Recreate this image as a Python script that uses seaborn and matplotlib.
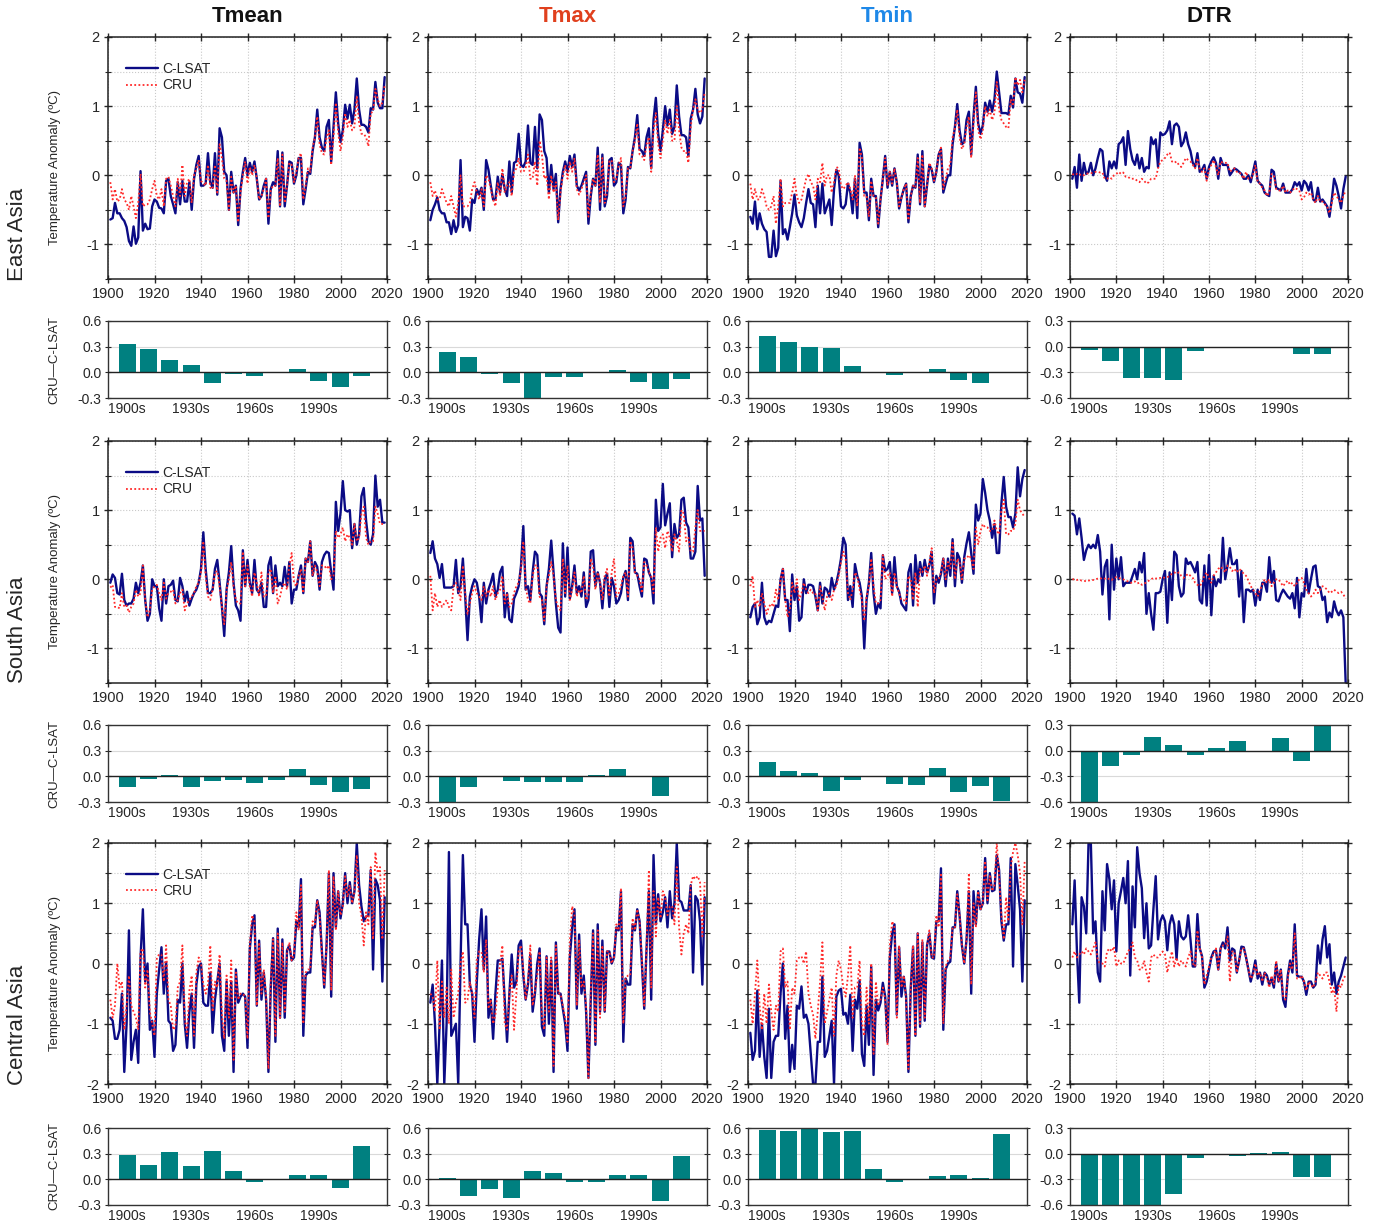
import numpy as np
import pandas as pd
import matplotlib
matplotlib.use("Agg")
import matplotlib.pyplot as plt
from matplotlib.ticker import MultipleLocator, FixedLocator
from matplotlib.lines import Line2D
import seaborn as sns

sns.set_style("ticks")
plt.rcParams["font.family"] = ["Liberation Sans", "DejaVu Sans"]
plt.rcParams["axes.unicode_minus"] = False

years = np.arange(1901, 2020)
decades = ["1900s", "1910s", "1920s", "1930s", "1940s", "1950s",
           "1960s", "1970s", "1980s", "1990s", "2000s", "2010s"]
variables = ["Tmean", "Tmax", "Tmin", "DTR"]
title_colors = ["#111111", "#E0401E", "#1E88E8", "#111111"]
regions = ["East Asia", "South Asia", "Central Asia"]

# ---------------- East Asia ----------------
ea_tmean_clsat = [
    -0.64, -0.62, -0.40, -0.55, -0.55, -0.62, -0.66, -0.75, -0.95, -1.02,
    -0.74, -0.99, -0.90, 0.06, -0.80, -0.70, -0.78, -0.77, -0.45, -0.35,
    -0.38, -0.47, -0.48, -0.55, -0.08, -0.05, -0.30, -0.42, -0.55, -0.10,
    -0.42, -0.08, -0.38, -0.38, -0.10, -0.50, -0.05, 0.15, 0.28, -0.15,
    -0.15, -0.12, 0.32, -0.10, -0.18, 0.32, -0.28, 0.68, 0.55, 0.05,
    0.00, -0.50, 0.05, -0.25, -0.15, -0.72, -0.20, 0.05, 0.25, 0.00,
    0.18, 0.05, 0.20, -0.05, -0.35, -0.30, -0.15, -0.05, -0.70, -0.20,
    -0.10, -0.15, 0.35, -0.45, 0.33, -0.45, -0.15, 0.20, 0.18, -0.12,
    0.00, 0.25, 0.25, -0.42, -0.20, 0.05, 0.02, 0.35, 0.55, 0.95,
    0.55, 0.40, 0.35, 0.70, 0.80, 0.20, 0.70, 1.20, 0.75, 0.48,
    0.65, 1.02, 0.82, 1.02, 0.75, 0.95, 1.40, 0.95, 0.73, 0.73,
    0.70, 0.62, 0.97, 0.95, 1.35, 1.05, 0.97, 0.97, 1.42]
ea_tmean_cru = [
    -0.10, -0.35, -0.20, -0.38, -0.35, -0.20, -0.35, -0.40, -0.50, -0.30,
    -0.45, -0.62, -0.40, 0.02, -0.45, -0.42, -0.42, -0.35, -0.20, -0.08,
    -0.30, -0.35, -0.20, -0.45, -0.05, -0.02, -0.15, -0.30, -0.45, -0.05,
    -0.30, 0.15, -0.30, -0.10, -0.05, -0.40, 0.00, 0.10, 0.22, -0.08,
    -0.12, -0.15, 0.15, -0.18, -0.20, 0.15, -0.25, 0.45, 0.25, -0.05,
    -0.08, -0.50, -0.02, -0.25, -0.15, -0.68, -0.25, 0.00, 0.20, -0.12,
    0.12, 0.00, 0.15, -0.05, -0.35, -0.30, -0.20, -0.05, -0.62, -0.22,
    -0.15, -0.15, 0.25, -0.45, 0.30, -0.40, -0.15, 0.18, 0.15, -0.10,
    0.05, 0.25, 0.32, -0.35, -0.15, 0.10, 0.05, 0.40, 0.55, 0.85,
    0.45, 0.32, 0.30, 0.55, 0.65, 0.15, 0.55, 1.05, 0.62, 0.35,
    0.55, 0.90, 0.70, 0.80, 0.65, 0.70, 1.15, 0.75, 0.60, 0.60,
    0.55, 0.42, 0.90, 0.92, 1.25, 1.10, 1.00, 1.05, 1.30]
ea_tmax_clsat = [
    -0.65, -0.50, -0.42, -0.32, -0.50, -0.55, -0.55, -0.68, -0.68, -0.85,
    -0.65, -0.82, -0.72, 0.22, -0.75, -0.60, -0.62, -0.80, -0.35, -0.40,
    -0.20, -0.28, -0.18, -0.50, 0.22, 0.08, -0.15, -0.35, -0.35, -0.02,
    -0.25, 0.02, -0.20, -0.30, 0.20, -0.25, 0.18, 0.20, 0.60, 0.15,
    0.12, 0.20, 0.72, 0.18, 0.15, 0.70, 0.10, 0.88, 0.80, 0.35,
    0.25, -0.25, 0.15, -0.20, 0.02, -0.68, -0.20, 0.05, 0.20, 0.05,
    0.28, 0.12, 0.30, -0.15, -0.22, -0.15, -0.05, 0.05, -0.70, -0.30,
    -0.05, -0.15, 0.40, -0.50, 0.30, -0.45, -0.30, 0.22, 0.25, -0.15,
    -0.10, 0.18, 0.15, -0.55, -0.35, 0.12, 0.10, 0.35, 0.55, 0.87,
    0.38, 0.35, 0.28, 0.55, 0.68, 0.10, 0.80, 1.12, 0.60, 0.35,
    0.65, 1.00, 0.72, 0.95, 0.60, 0.70, 1.30, 0.85, 0.58, 0.58,
    0.55, 0.28, 0.82, 0.95, 1.25, 0.88, 0.75, 0.85, 1.40]
ea_tmax_cru = [
    -0.10, -0.30, -0.22, -0.35, -0.35, -0.20, -0.30, -0.40, -0.45, -0.30,
    -0.45, -0.60, -0.40, 0.00, -0.45, -0.45, -0.45, -0.40, -0.20, -0.10,
    -0.25, -0.35, -0.20, -0.45, 0.00, -0.05, -0.20, -0.35, -0.45, -0.10,
    -0.30, 0.10, -0.25, -0.15, -0.10, -0.30, 0.05, 0.10, 0.25, 0.05,
    0.05, 0.10, 0.30, -0.05, -0.05, 0.20, -0.15, 0.50, 0.30, -0.05,
    0.00, -0.35, 0.00, -0.25, -0.10, -0.65, -0.25, 0.00, 0.15, -0.05,
    0.20, 0.05, 0.25, -0.20, -0.28, -0.20, -0.10, 0.00, -0.60, -0.25,
    -0.05, -0.15, 0.30, -0.40, 0.25, -0.40, -0.25, 0.20, 0.22, -0.10,
    -0.05, 0.15, 0.25, -0.45, -0.30, 0.10, 0.10, 0.35, 0.50, 0.75,
    0.30, 0.28, 0.22, 0.45, 0.55, 0.05, 0.65, 0.90, 0.45, 0.25,
    0.50, 0.80, 0.60, 0.80, 0.50, 0.50, 1.00, 0.65, 0.40, 0.35,
    0.35, 0.18, 0.70, 0.95, 1.10, 0.95, 0.90, 0.95, 1.20]
ea_tmin_clsat = [
    -0.60, -0.70, -0.38, -0.78, -0.55, -0.70, -0.78, -0.82, -1.18, -1.18,
    -0.80, -1.17, -1.05, -0.08, -0.85, -0.78, -0.93, -0.75, -0.55, -0.28,
    -0.58, -0.68, -0.75, -0.62, -0.40, -0.20, -0.40, -0.42, -0.75, -0.15,
    -0.55, -0.12, -0.55, -0.45, -0.35, -0.72, -0.20, 0.08, 0.00, -0.45,
    -0.48, -0.42, -0.12, -0.25, -0.55, -0.05, -0.62, 0.47, 0.30, -0.25,
    -0.25, -0.65, -0.05, -0.30, -0.30, -0.75, -0.35, -0.05, 0.28, -0.18,
    0.05, -0.15, 0.10, -0.10, -0.48, -0.32, -0.20, -0.12, -0.68, -0.30,
    -0.15, -0.18, 0.30, -0.42, 0.35, -0.45, -0.15, 0.15, 0.08, -0.10,
    0.05, 0.30, 0.38, -0.25, -0.12, 0.00, 0.00, 0.45, 0.70, 1.03,
    0.65, 0.45, 0.48, 0.80, 0.92, 0.30, 0.85, 1.28, 0.75, 0.60,
    0.72, 1.05, 0.92, 1.08, 0.92, 1.10, 1.50, 1.20, 0.90, 0.90,
    0.90, 0.88, 1.15, 0.98, 1.40, 1.20, 1.18, 1.05, 1.42]
ea_tmin_cru = [
    -0.12, -0.35, -0.20, -0.35, -0.35, -0.20, -0.30, -0.45, -0.50, -0.45,
    -0.30, -0.70, -0.45, -0.05, -0.45, -0.40, -0.40, -0.40, -0.25, -0.05,
    -0.30, -0.40, -0.35, -0.20, -0.05, 0.02, -0.10, -0.15, -0.35, -0.05,
    -0.10, 0.18, -0.15, 0.00, 0.00, -0.25, -0.10, 0.12, 0.10, -0.15,
    -0.20, -0.15, -0.10, -0.20, -0.35, 0.00, -0.45, 0.40, 0.25, -0.30,
    -0.30, -0.60, -0.08, -0.30, -0.32, -0.70, -0.35, -0.05, 0.25, -0.15,
    0.05, -0.12, 0.10, -0.10, -0.45, -0.32, -0.20, -0.12, -0.65, -0.30,
    -0.15, -0.18, 0.25, -0.40, 0.30, -0.45, -0.15, 0.18, 0.10, -0.08,
    0.05, 0.30, 0.40, -0.20, -0.05, 0.10, 0.15, 0.55, 0.68, 0.95,
    0.55, 0.38, 0.45, 0.70, 0.85, 0.25, 0.75, 1.20, 0.65, 0.52,
    0.65, 1.00, 0.85, 0.95, 0.80, 0.90, 1.35, 0.95, 0.80, 0.75,
    0.70, 0.68, 1.10, 1.00, 1.42, 1.30, 1.38, 1.20, 1.38]
ea_dtr_clsat = [
    -0.05, 0.12, -0.18, 0.30, -0.08, 0.18, 0.02, 0.05, 0.18, 0.00,
    0.10, 0.25, 0.38, 0.35, 0.00, -0.08, 0.20, 0.10, 0.20, 0.10,
    0.45, 0.48, 0.55, 0.15, 0.64, 0.38, 0.22, 0.15, 0.30, 0.10,
    0.25, 0.05, 0.12, 0.10, 0.55, 0.45, 0.52, 0.12, 0.62, 0.58,
    0.60, 0.65, 0.78, 0.45, 0.72, 0.75, 0.70, 0.42, 0.48, 0.62,
    0.45, 0.35, 0.18, 0.12, 0.32, 0.05, 0.08, 0.15, -0.05, 0.12,
    0.20, 0.26, 0.18, -0.05, 0.25, 0.15, 0.15, 0.15, 0.00, 0.05,
    0.10, 0.08, 0.05, 0.02, -0.05, -0.05, 0.00, -0.10, 0.05, 0.20,
    -0.08, -0.12, -0.15, -0.25, -0.28, -0.30, 0.08, 0.05, -0.18, -0.20,
    -0.22, -0.12, -0.25, -0.25, -0.25, -0.20, -0.10, -0.15, -0.10, -0.22,
    -0.08, -0.12, -0.22, -0.10, -0.35, -0.38, -0.18, -0.38, -0.35, -0.40,
    -0.45, -0.60, -0.35, -0.05, -0.15, -0.30, -0.48, -0.20, -0.02]
ea_dtr_cru = [
    0.02, 0.00, 0.02, 0.00, 0.02, 0.00, 0.02, 0.03, 0.03, 0.04,
    0.05, 0.05, 0.04, 0.04, -0.05, -0.05, -0.03, -0.05, 0.00, 0.02,
    0.05, 0.02, 0.04, -0.02, -0.02, -0.05, -0.05, -0.05, -0.08, -0.10,
    -0.05, -0.08, -0.12, -0.10, -0.05, -0.05, -0.05, 0.10, 0.20, 0.22,
    0.25, 0.30, 0.33, 0.20, 0.18, 0.20, 0.15, 0.12, 0.18, 0.25,
    0.22, 0.20, 0.15, 0.10, 0.25, 0.08, 0.05, 0.10, -0.08, 0.08,
    0.15, 0.22, 0.12, 0.00, 0.20, 0.18, 0.18, 0.18, 0.05, 0.08,
    0.10, 0.05, 0.05, 0.00, -0.05, 0.05, -0.05, -0.05, 0.00, 0.15,
    -0.10, -0.12, -0.18, -0.22, -0.30, -0.25, 0.02, 0.00, -0.20, -0.22,
    -0.22, -0.15, -0.25, -0.22, -0.25, -0.22, -0.18, -0.20, -0.22, -0.35,
    -0.32, -0.25, -0.28, -0.25, -0.35, -0.40, -0.30, -0.38, -0.38, -0.42,
    -0.45, -0.55, -0.40, -0.25, -0.30, -0.35, -0.40, -0.30, -0.22]

# ---------------- South Asia ----------------
sa_tmean_clsat = [
    -0.05, 0.07, 0.02, -0.20, -0.22, 0.08, -0.30, -0.38, -0.35, -0.35,
    -0.28, -0.05, -0.20, -0.05, 0.20, -0.30, -0.60, -0.50, 0.00, -0.10,
    -0.10, -0.42, -0.60, 0.00, -0.35, -0.10, -0.08, -0.02, -0.30, -0.32,
    0.02, -0.10, -0.32, -0.18, -0.38, -0.28, -0.20, -0.15, -0.05, 0.15,
    0.68, 0.15, -0.20, -0.20, -0.15, 0.15, 0.28, -0.05, -0.40, -0.82,
    -0.15, 0.10, 0.48, -0.05, -0.38, -0.45, -0.60, 0.42, -0.10, 0.28,
    -0.05, -0.20, 0.28, -0.15, -0.20, -0.05, -0.40, -0.40, 0.20, 0.32,
    -0.20, 0.20, -0.10, -0.05, -0.10, 0.18, -0.10, 0.25, -0.35, -0.15,
    -0.15, 0.05, 0.20, -0.20, 0.30, 0.25, 0.55, 0.05, 0.25, 0.18,
    -0.15, 0.25, 0.35, 0.40, 0.38, 0.10, -0.15, 1.12, 0.70, 0.95,
    1.42, 1.00, 0.98, 1.00, 0.45, 0.80, 0.50, 0.65, 1.20, 1.32,
    0.85, 0.55, 0.50, 0.65, 1.50, 1.05, 1.15, 0.82, 0.82]
sa_tmean_cru = [
    -0.12, -0.08, -0.40, -0.40, -0.42, -0.20, -0.40, -0.38, -0.48, -0.40,
    -0.35, -0.15, -0.25, -0.20, 0.20, -0.30, -0.55, -0.45, -0.15, -0.10,
    -0.08, -0.20, -0.30, -0.05, -0.28, -0.20, -0.18, -0.15, -0.35, -0.30,
    -0.20, -0.15, -0.45, -0.35, -0.30, -0.25, -0.20, -0.10, -0.05, 0.10,
    0.55, 0.05, -0.25, -0.30, -0.15, 0.10, 0.12, -0.10, -0.40, -0.65,
    -0.15, 0.00, 0.25, -0.10, -0.30, -0.35, -0.35, 0.40, -0.10, 0.20,
    -0.10, -0.25, 0.10, -0.05, -0.25, 0.10, -0.25, -0.25, 0.10, 0.15,
    -0.20, 0.05, -0.35, -0.25, -0.10, -0.05, -0.15, 0.20, 0.38, -0.05,
    -0.10, 0.05, 0.15, -0.20, 0.30, 0.25, 0.55, 0.05, 0.20, 0.10,
    -0.10, 0.20, 0.20, 0.15, 0.20, 0.00, 0.05, 0.70, 0.60, 0.65,
    0.75, 0.55, 0.65, 0.60, 0.50, 0.80, 0.55, 0.60, 0.95, 1.05,
    0.60, 0.50, 0.55, 0.55, 1.05, 0.95, 0.80, 0.80, 0.80]
sa_tmax_clsat = [
    0.38, 0.55, 0.30, 0.22, 0.02, 0.22, -0.12, -0.12, -0.12, -0.12,
    -0.10, 0.28, -0.20, -0.10, 0.30, -0.25, -0.88, -0.25, -0.10, 0.00,
    -0.05, -0.25, -0.62, -0.05, -0.35, -0.15, -0.05, 0.08, -0.25, -0.15,
    0.10, 0.18, -0.55, -0.20, -0.58, -0.62, -0.28, -0.20, -0.10, 0.20,
    0.77, -0.15, -0.10, -0.30, 0.10, 0.40, 0.35, -0.20, -0.25, -0.65,
    -0.10, 0.15, 0.56, 0.10, -0.35, -0.70, -0.77, 0.52, -0.25, 0.46,
    -0.28, -0.10, 0.20, -0.20, -0.10, -0.25, 0.10, -0.40, -0.30, 0.40,
    0.42, -0.10, 0.10, -0.05, -0.42, 0.00, 0.08, -0.40, 0.02, -0.10,
    -0.35, -0.30, -0.20, 0.02, 0.12, -0.30, 0.60, 0.55, 0.10, 0.08,
    -0.10, -0.25, 0.30, 0.28, 0.10, 0.02, -0.35, 1.15, 0.70, 0.75,
    1.38, 0.78, 0.95, 1.10, 0.32, 0.80, 0.60, 0.65, 1.15, 1.18,
    0.82, 0.75, 0.30, 0.30, 0.40, 1.35, 0.85, 0.88, 0.05]
sa_tmax_cru = [
    0.05, -0.45, -0.20, -0.40, -0.30, -0.40, -0.35, -0.30, -0.40, -0.45,
    -0.10, -0.05, -0.15, -0.30, 0.20, -0.20, -0.50, -0.35, -0.20, -0.10,
    -0.20, -0.25, -0.30, -0.10, -0.25, -0.15, -0.25, -0.10, -0.30, -0.20,
    -0.15, 0.05, -0.35, -0.20, -0.40, -0.35, -0.20, -0.10, -0.05, 0.15,
    0.55, -0.10, -0.30, -0.35, 0.05, 0.20, 0.20, -0.25, -0.30, -0.60,
    -0.10, 0.05, 0.25, 0.05, -0.30, -0.40, -0.45, 0.30, -0.20, 0.20,
    -0.30, -0.15, 0.10, -0.25, -0.15, -0.20, 0.05, -0.30, -0.25, 0.30,
    0.20, -0.15, 0.10, -0.05, -0.30, 0.05, 0.15, -0.25, 0.10, 0.30,
    -0.25, -0.20, -0.10, 0.05, 0.10, -0.25, 0.55, 0.45, 0.10, 0.05,
    0.00, -0.20, 0.25, 0.20, 0.10, 0.05, -0.20, 0.75, 0.40, 0.60,
    0.65, 0.45, 0.70, 0.60, 0.40, 0.65, 0.55, 0.40, 1.00, 0.95,
    0.55, 0.60, 0.40, 0.40, 0.75, 1.00, 0.70, 0.70, 0.70]
sa_tmin_clsat = [
    -0.55, -0.40, -0.35, -0.65, -0.55, -0.05, -0.55, -0.65, -0.60, -0.62,
    -0.50, -0.38, -0.40, 0.00, 0.15, -0.30, -0.30, -0.75, 0.07, -0.30,
    -0.10, -0.60, -0.55, 0.00, -0.20, -0.08, -0.08, -0.10, -0.25, -0.45,
    -0.05, -0.35, -0.12, -0.15, -0.25, 0.02, -0.15, -0.05, 0.10, 0.30,
    0.60, 0.50, -0.30, -0.10, -0.40, 0.22, 0.05, -0.05, -0.25, -1.00,
    -0.30, -0.05, 0.38, -0.20, -0.50, -0.35, -0.42, 0.35, 0.12, 0.15,
    0.25, -0.20, 0.32, -0.10, -0.18, -0.35, -0.40, -0.45, 0.10, 0.22,
    -0.38, 0.35, -0.05, 0.25, 0.05, 0.28, 0.10, 0.20, 0.40, -0.35,
    0.05, -0.05, 0.08, 0.30, -0.10, 0.30, 0.05, 0.58, -0.10, 0.38,
    0.30, -0.05, 0.32, 0.52, 0.68, 0.38, 0.08, 1.08, 0.85, 0.95,
    1.45, 1.25, 1.00, 0.85, 0.60, 0.80, 0.38, 0.38, 1.10, 1.48,
    1.05, 0.90, 0.90, 0.75, 0.95, 1.62, 1.20, 1.45, 1.58]
sa_tmin_cru = [
    -0.10, 0.05, -0.40, -0.30, -0.40, -0.20, -0.35, -0.50, -0.40, -0.35,
    -0.40, -0.15, -0.30, 0.00, 0.15, -0.30, -0.55, -0.45, -0.05, -0.20,
    0.00, -0.30, -0.20, -0.05, -0.15, -0.20, -0.15, -0.20, -0.20, -0.45,
    -0.10, -0.25, -0.45, -0.25, -0.20, -0.30, -0.15, -0.10, 0.05, 0.25,
    0.40, 0.30, -0.20, -0.30, -0.15, 0.10, 0.05, -0.15, -0.30, -0.60,
    -0.25, -0.10, 0.30, -0.10, -0.35, -0.35, -0.30, 0.35, 0.00, 0.05,
    0.10, -0.25, 0.10, -0.10, -0.20, -0.30, -0.30, -0.35, 0.05, 0.00,
    -0.30, 0.10, -0.40, 0.15, 0.10, 0.20, 0.05, 0.25, 0.45, -0.20,
    0.00, 0.00, 0.10, 0.30, 0.00, 0.25, 0.15, 0.55, 0.00, 0.30,
    0.25, 0.00, 0.30, 0.30, 0.35, 0.30, 0.15, 0.75, 0.50, 0.70,
    0.80, 0.75, 0.75, 0.70, 0.70, 0.85, 0.70, 0.65, 1.00, 1.15,
    0.65, 0.65, 0.70, 0.70, 0.80, 1.15, 1.00, 0.95, 0.90]
sa_dtr_clsat = [
    0.95, 0.92, 0.65, 0.88, 0.60, 0.28, 0.42, 0.50, 0.45, 0.50,
    0.45, 0.64, 0.40, -0.22, 0.18, 0.28, -0.58, 0.50, -0.15, 0.30,
    0.00, 0.32, -0.10, -0.05, -0.05, -0.05, 0.05, 0.15, 0.00, 0.25,
    0.10, 0.38, -0.50, -0.20, -0.50, -0.73, -0.20, -0.20, -0.18, 0.00,
    0.12, -0.63, 0.10, -0.30, 0.40, 0.35, -0.10, -0.25, -0.20, 0.30,
    0.22, 0.25, 0.18, 0.10, 0.25, -0.30, -0.35, 0.20, -0.38, 0.35,
    -0.52, 0.05, -0.10, 0.00, -0.05, 0.60, 0.00, 0.20, 0.45, 0.22,
    0.22, 0.28, -0.25, 0.12, -0.62, -0.15, -0.15, -0.18, -0.15, -0.38,
    -0.15, -0.30, -0.05, -0.05, -0.18, 0.32, -0.05, 0.12, -0.30, -0.32,
    -0.22, -0.15, -0.20, -0.25, -0.28, -0.20, -0.42, 0.02, -0.55, -0.20,
    -0.25, 0.15, -0.20, 0.00, 0.18, 0.20, -0.10, -0.12, -0.30, -0.25,
    -0.62, -0.48, -0.55, -0.32, -0.45, -0.52, -0.45, -0.55, -1.50]
sa_dtr_cru = [
    0.00, 0.00, -0.01, 0.00, -0.02, -0.02, -0.03, -0.02, -0.01, -0.01,
    0.00, 0.01, 0.02, 0.00, 0.01, 0.02, 0.00, -0.01, 0.02, 0.03,
    0.02, 0.01, 0.00, -0.02, -0.03, -0.05, -0.05, -0.03, -0.06, -0.05,
    -0.08, -0.06, -0.05, -0.02, 0.00, 0.02, 0.01, 0.02, 0.02, 0.03,
    0.02, 0.03, 0.05, 0.08, 0.10, 0.08, 0.10, 0.05, 0.02, 0.05,
    0.08, 0.05, 0.02, -0.05, -0.08, -0.10, -0.05, 0.05, 0.10, 0.02,
    -0.05, 0.05, 0.10, 0.15, 0.18, 0.15, 0.10, 0.20, 0.18, 0.12,
    0.15, 0.10, 0.15, 0.12, 0.08, 0.05, -0.02, -0.10, -0.15, -0.20,
    -0.25, -0.15, -0.08, 0.00, -0.05, 0.00, -0.10, -0.05, 0.00, 0.00,
    -0.05, -0.10, -0.05, -0.02, -0.08, -0.05, -0.10, -0.05, 0.00, 0.02,
    -0.05, -0.15, -0.20, -0.25, -0.22, -0.15, -0.20, -0.15, -0.10, -0.12,
    -0.15, -0.20, -0.18, -0.15, -0.18, -0.20, -0.18, -0.22, -0.28]

# ---------------- Central Asia ----------------
ca_tmean_clsat = [
    -0.90, -0.95, -1.25, -1.25, -1.10, -0.50, -1.80, -1.00, 0.55, -1.60,
    -1.30, -1.10, -1.65, 0.10, 0.90, -0.30, 0.00, -1.10, -0.95, -1.55,
    -0.50, -0.10, 0.27, -0.50, 0.02, -0.95, -1.00, -1.45, -1.35, -0.60,
    -0.65, 0.00, -1.00, -1.40, -0.80, -0.50, -1.40, -0.35, -0.05, 0.00,
    -0.65, -0.70, -0.70, -0.15, -1.15, -0.60, -0.30, 0.00, -1.20, -1.45,
    -0.30, -1.20, -0.30, -1.80, -0.10, -0.65, -0.55, -0.50, -0.55, -1.40,
    0.25, 0.65, 0.80, -0.70, 0.38, -0.60, -0.15, -0.60, -1.80, -0.40,
    0.42, -1.30, 0.58, -0.90, 0.40, -0.90, 0.22, 0.30, 0.05, 0.10,
    0.70, 0.60, 1.40, -1.20, -0.20, -0.15, -0.15, 0.60, 0.60, 1.05,
    0.85, 0.20, -0.40, 0.30, 1.50, -0.55, 1.50, 0.60, 1.20, 0.75,
    1.00, 1.50, 1.00, 1.35, 1.00, 1.20, 2.00, 1.30, 0.95, 0.70,
    0.78, 0.80, 1.55, -0.10, 1.40, 1.30, 1.05, -0.30, 1.10]
ca_tmean_cru = [
    -0.60, -0.90, -0.70, 0.00, -0.40, -0.30, -1.10, -0.70, -0.20, -0.70,
    -0.80, -0.90, -1.10, 0.20, 0.25, -0.40, -0.10, -0.80, -1.00, -1.20,
    0.10, 0.15, 0.15, -0.30, 0.30, -0.60, -0.70, -1.10, -1.05, -0.40,
    -0.30, 0.30, -0.90, -1.20, -0.45, -0.20, -1.20, -0.15, 0.10, 0.00,
    -0.35, -0.50, -0.35, 0.30, -0.80, -0.30, -0.40, 0.15, -0.85, -1.25,
    -0.20, -0.90, 0.05, -1.60, -0.15, -0.60, -0.50, -0.50, -0.55, -1.25,
    0.30, 0.80, 0.70, -0.70, 0.35, -0.50, -0.10, -0.55, -1.75, -0.30,
    0.40, -1.20, 0.50, -0.90, 0.35, -0.80, 0.20, 0.35, 0.05, 0.15,
    0.85, 0.55, 1.30, -1.00, -0.15, -0.10, -0.10, 0.70, 0.65, 1.05,
    0.80, 0.15, -0.35, 0.30, 1.55, -0.45, 1.45, 0.55, 1.20, 0.80,
    0.95, 1.45, 1.10, 1.30, 1.00, 1.20, 1.80, 1.00, 0.80, 0.30,
    0.85, 0.65, 1.60, 0.40, 1.85, 1.50, 1.60, 0.40, 1.55]
ca_tmax_clsat = [
    -0.65, -0.35, -1.00, -2.00, -1.00, 0.05, -2.00, -1.00, 1.85, -1.20,
    -1.10, -1.00, -2.00, 0.00, 1.80, 0.65, 0.65, -0.35, -0.50, -1.30,
    -0.30, 0.40, 0.90, -0.10, 0.78, -0.90, -0.60, -1.25, -0.50, 0.05,
    0.05, 0.08, -0.60, -1.30, -0.50, 0.15, -0.40, -0.30, 0.30, 0.38,
    -0.20, -0.60, -0.35, 0.15, -0.80, -0.50, 0.00, 0.25, -1.05, -1.20,
    0.12, -1.00, 0.05, -1.80, 0.35, -0.50, -0.50, -0.75, -1.00, -1.45,
    0.10, 0.60, 0.90, -0.75, 0.48, -0.50, -0.20, -0.80, -1.90, -0.60,
    0.55, -1.35, 0.65, -0.80, 0.38, -0.80, 0.20, 0.20, 0.00, 0.10,
    0.60, 0.55, 1.20, -1.30, -0.25, -0.35, -0.35, 0.65, 0.55, 0.90,
    0.70, 0.00, -0.75, 0.25, 1.20, -0.60, 1.80, 0.65, 1.15, 0.70,
    0.85, 1.10, 0.60, 1.20, 0.75, 1.00, 2.00, 1.05, 1.02, 0.88,
    0.88, 0.88, 1.30, -0.15, 1.12, 1.05, 0.70, -0.35, 1.10]
ca_tmax_cru = [
    -0.50, -0.55, -0.80, 0.05, -1.10, -0.30, -0.90, -0.40, -1.00, -0.10,
    -0.90, -0.65, -0.50, 0.00, 0.20, -0.65, -0.60, -0.30, -0.50, -0.90,
    0.05, 0.20, 0.20, -0.15, 0.40, -0.75, -0.60, -1.00, -0.85, -0.40,
    0.00, 0.30, -1.00, -1.10, -0.50, -0.20, -1.10, -0.50, 0.20, 0.30,
    -0.10, -0.60, -0.30, 0.30, -0.70, -0.45, -0.20, 0.20, -0.90, -1.10,
    0.10, -0.80, 0.10, -1.70, 0.30, -0.50, -0.50, -0.70, -0.90, -1.30,
    0.35, 0.95, 0.80, -0.70, 0.40, -0.40, -0.30, -0.70, -1.90, -0.50,
    0.50, -1.30, 0.55, -0.90, 0.30, -0.80, 0.20, 0.20, 0.00, 0.10,
    0.65, 0.55, 1.25, -1.00, -0.25, -0.20, -0.20, 0.75, 0.55, 0.90,
    0.70, 0.05, -0.70, 0.25, 1.55, -0.40, 1.20, 0.45, 1.10, 0.75,
    1.20, 1.10, 0.80, 0.95, 0.95, 0.65, 1.60, 0.60, 0.15, 0.50,
    0.65, 0.50, 1.30, 1.45, 1.40, 1.45, 1.35, 0.45, 1.35]
ca_tmin_clsat = [
    -1.15, -1.60, -1.45, -0.45, -1.55, -1.00, -1.55, -1.90, -0.75, -1.90,
    -1.30, -1.20, -1.20, -0.50, 0.00, -1.25, -0.70, -1.80, -1.35, -1.75,
    -0.70, -0.75, -0.38, -0.90, -0.85, -1.00, -1.50, -2.00, -2.00, -1.30,
    -1.30, -0.22, -1.55, -1.45, -1.20, -0.95, -2.00, -0.55, -0.45, -0.42,
    -0.85, -0.82, -1.00, -0.52, -1.45, -0.60, -0.75, -0.28, -1.50, -1.70,
    -0.70, -1.35, -0.05, -1.85, -0.60, -0.78, -0.65, -0.32, -0.55, -1.30,
    0.10, 0.50, 0.65, -0.85, 0.27, -0.55, -0.22, -0.55, -1.80, -0.40,
    0.28, -1.20, 0.50, -1.05, 0.35, -0.95, 0.30, 0.50, 0.10, 0.08,
    0.70, 0.70, 1.58, -1.10, -0.10, 0.00, 0.03, 0.60, 0.60, 1.20,
    0.80, 0.30, 0.00, 0.40, 1.20, -0.50, 1.20, 0.65, 1.20, 0.90,
    1.00, 1.75, 1.00, 1.50, 1.20, 1.22, 1.80, 1.55, 0.70, 0.38,
    0.65, 0.65, 1.75, -0.05, 1.65, 1.30, 0.90, -0.30, 1.05]
ca_tmin_cru = [
    -0.60, -1.00, -0.50, 0.05, -0.70, -1.10, -0.50, -1.00, -0.35, -0.80,
    -1.10, -0.70, -0.80, 0.20, 0.25, -0.40, -0.30, -1.10, -0.40, -0.50,
    0.05, 0.10, 0.12, 0.00, 0.20, -0.50, -0.70, -0.85, -1.25, -0.80,
    -0.30, 0.35, -1.00, -0.80, -0.60, -0.40, -1.20, -0.20, 0.05, -0.10,
    -0.40, -0.55, -0.20, 0.30, -0.90, -0.40, -0.40, 0.05, -1.00, -1.20,
    -0.40, -1.00, 0.00, -1.50, -0.30, -0.70, -0.60, -0.40, -0.60, -1.35,
    0.30, 0.70, 0.60, -0.90, 0.30, -0.40, -0.20, -0.60, -1.75, -0.40,
    0.30, -1.20, 0.50, -1.00, 0.40, -0.90, 0.30, 0.55, 0.10, 0.10,
    0.80, 0.60, 1.50, -1.00, -0.05, 0.05, 0.10, 0.60, 0.60, 1.15,
    0.80, 0.30, 0.00, 0.40, 1.50, -0.35, 1.00, 0.60, 1.20, 0.90,
    1.00, 1.70, 1.05, 1.45, 1.20, 1.30, 2.00, 1.45, 0.80, 0.40,
    1.10, 0.70, 1.60, 1.85, 2.00, 1.80, 1.50, 0.65, 1.70]
ca_dtr_clsat = [
    0.65, 1.38, 0.20, -0.65, 1.10, 0.95, 0.50, 2.00, 2.00, 0.50,
    0.70, -0.15, -0.30, 1.20, 0.55, 1.65, 1.40, 0.90, 1.38, 0.20,
    1.00, 1.20, 1.42, 1.00, 1.70, -0.20, 1.28, 0.60, 1.93, 1.50,
    1.25, 0.42, 1.00, 0.25, 0.30, 0.90, 1.45, 0.40, 0.70, 0.80,
    0.70, 0.22, 0.65, 0.80, 0.65, 0.07, 0.70, 0.45, 0.40, 0.45,
    0.80, 0.40, -0.05, -0.05, 0.82, 0.25, 0.12, -0.40, -0.30, -0.10,
    0.10, 0.20, 0.22, -0.10, 0.25, 0.35, 0.25, 0.60, 0.05, 0.25,
    0.22, -0.15, 0.05, 0.28, 0.27, 0.10, -0.10, -0.30, -0.15, 0.05,
    -0.25, -0.15, -0.35, -0.15, -0.20, -0.35, -0.25, -0.40, 0.00, -0.30,
    -0.10, -0.60, -0.72, -0.20, 0.05, -0.15, 0.65, -0.20, -0.22, -0.22,
    -0.30, -0.52, -0.30, -0.30, -0.40, -0.35, 0.30, 0.00, 0.40, 0.62,
    0.10, 0.32, -0.35, -0.15, -0.50, -0.30, -0.20, -0.05, 0.10]
ca_dtr_cru = [
    0.10, 0.20, 0.10, 0.15, 0.20, 0.15, 0.25, 0.20, 0.15, 0.25,
    0.35, 0.05, 0.00, 0.00, -0.05, 0.20, 0.25, 0.20, 0.28, -0.05,
    0.05, 0.00, 0.00, 0.10, 0.20, 0.25, 0.35, 0.10, 0.05, -0.10,
    -0.10, 0.05, -0.15, -0.30, 0.10, 0.15, 0.10, 0.10, 0.15, 0.20,
    0.15, -0.15, 0.05, 0.20, -0.05, 0.10, -0.05, 0.05, 0.00, -0.05,
    0.10, 0.20, 0.00, -0.05, 0.55, 0.25, 0.10, -0.35, -0.20, -0.05,
    0.10, 0.15, 0.25, -0.10, 0.25, 0.30, 0.30, 0.45, -0.30, 0.20,
    0.20, -0.15, 0.05, 0.25, 0.25, 0.10, -0.10, -0.25, -0.20, 0.00,
    -0.20, -0.15, -0.30, -0.15, -0.25, -0.40, -0.20, -0.35, 0.05, -0.30,
    -0.10, -0.55, -0.60, -0.25, 0.00, -0.10, 0.50, -0.25, -0.25, -0.20,
    -0.30, -0.45, -0.30, -0.35, -0.40, -0.30, -0.15, -0.20, -0.25, -0.15,
    -0.15, -0.30, -0.50, -0.40, -0.80, -0.35, -0.40, -0.25, -0.20]

# ---------------- decadal CRU minus C-LSAT ----------------
ea_tmean_diff = [0.33, 0.27, 0.14, 0.08, -0.12, -0.02, -0.04, 0.00, 0.04, -0.10, -0.17, -0.04]
ea_tmax_diff = [0.24, 0.18, -0.02, -0.12, -0.31, -0.05, -0.05, 0.00, 0.03, -0.11, -0.20, -0.08]
ea_tmin_diff = [0.43, 0.36, 0.30, 0.28, 0.07, 0.00, -0.03, 0.00, 0.04, -0.09, -0.13, 0.00]
ea_dtr_diff = [-0.04, -0.17, -0.37, -0.37, -0.39, -0.05, -0.01, 0.00, -0.01, -0.02, -0.08, -0.08]
sa_tmean_diff = [-0.13, -0.03, 0.02, -0.12, -0.05, -0.04, -0.08, -0.04, 0.09, -0.10, -0.18, -0.15]
sa_tmax_diff = [-0.31, -0.12, 0.00, -0.06, -0.07, -0.07, -0.07, 0.02, 0.08, -0.01, -0.23, 0.00]
sa_tmin_diff = [0.17, 0.06, 0.04, -0.17, -0.04, 0.00, -0.09, -0.10, 0.10, -0.18, -0.11, -0.29]
sa_dtr_diff = [-0.61, -0.18, -0.05, 0.16, 0.07, -0.05, 0.03, 0.11, -0.02, 0.15, -0.12, 0.29]
ca_tmean_diff = [0.29, 0.17, 0.32, 0.16, 0.33, 0.10, -0.03, -0.01, 0.05, 0.05, -0.10, 0.39]
ca_tmax_diff = [0.02, -0.20, -0.11, -0.22, 0.10, 0.07, -0.03, -0.03, 0.05, 0.05, -0.25, 0.27]
ca_tmin_diff = [0.58, 0.56, 0.60, 0.55, 0.57, 0.12, -0.03, 0.00, 0.04, 0.05, 0.02, 0.53]
ca_dtr_diff = [-0.62, -0.62, -0.62, -0.62, -0.47, -0.05, 0.00, -0.03, 0.01, 0.02, -0.27, -0.27]

series = [
    [(ea_tmean_clsat, ea_tmean_cru, ea_tmean_diff), (ea_tmax_clsat, ea_tmax_cru, ea_tmax_diff),
     (ea_tmin_clsat, ea_tmin_cru, ea_tmin_diff), (ea_dtr_clsat, ea_dtr_cru, ea_dtr_diff)],
    [(sa_tmean_clsat, sa_tmean_cru, sa_tmean_diff), (sa_tmax_clsat, sa_tmax_cru, sa_tmax_diff),
     (sa_tmin_clsat, sa_tmin_cru, sa_tmin_diff), (sa_dtr_clsat, sa_dtr_cru, sa_dtr_diff)],
    [(ca_tmean_clsat, ca_tmean_cru, ca_tmean_diff), (ca_tmax_clsat, ca_tmax_cru, ca_tmax_diff),
     (ca_tmin_clsat, ca_tmin_cru, ca_tmin_diff), (ca_dtr_clsat, ca_dtr_cru, ca_dtr_diff)],
]

for row in series:
    for a, b, d in row:
        if len(a) != len(years) or len(b) != len(years) or len(d) != len(decades):
            raise ValueError("series length mismatch")

# ---------------- layout (pixels) ----------------
W, H = 1376, 1227
col_x = [(108, 387), (428, 707), (748, 1027), (1070, 1348)]
line_rows = [(37, 279), (441, 683), (843, 1084)]
bar_rows = [(321, 398), (725, 802), (1128, 1205)]
row_label_y = [234, 630, 1025]


def rect(x0, x1, y0, y1):
    return [x0 / W, 1 - y1 / H, (x1 - x0) / W, (y1 - y0) / H]


CLSAT_COLOR = "#0b0b85"
CRU_COLOR = "#ff2a2a"
BAR_COLOR = "#008080"
GRID_COLOR = "#c9c9c9"

fig = plt.figure(figsize=(W / 100, H / 100), dpi=100)

for r in range(3):
    for c in range(4):
        clsat, cru, diff = series[r][c]
        x0, x1 = col_x[c]

        # ---- annual anomaly series ----
        ax = fig.add_axes(rect(x0, x1, *line_rows[r]))
        ax.grid(True, which="both", color=GRID_COLOR, linestyle=":", linewidth=0.8)
        ax.set_axisbelow(True)
        sns.lineplot(x=years, y=clsat, ax=ax, color=CLSAT_COLOR, linewidth=1.7,
                     estimator=None, label="C-LSAT")
        sns.lineplot(x=years, y=cru, ax=ax, color=CRU_COLOR, linewidth=1.3,
                     linestyle=(0, (1, 1.3)), estimator=None, label="CRU")
        ax.set_xlim(1900, 2020)
        if r < 2:
            ax.set_ylim(-1.5, 2)
            ax.yaxis.set_major_locator(FixedLocator([-1, 0, 1, 2]))
        else:
            ax.set_ylim(-2, 2)
            ax.yaxis.set_major_locator(FixedLocator([-2, -1, 0, 1, 2]))
        ax.yaxis.set_minor_locator(MultipleLocator(0.5))
        ax.xaxis.set_major_locator(MultipleLocator(20))
        ax.tick_params(which="major", direction="inout", length=6, width=1,
                       labelsize=10.5, top=True, right=True, pad=3)
        ax.tick_params(which="minor", direction="inout", length=4, width=0.8,
                       top=False, right=True)
        for s in ax.spines.values():
            s.set_linewidth(1.1)
            s.set_color("#222222")
        ax.set_xlabel("")
        if c == 0:
            ax.set_ylabel("Temperature Anomaly (\u00baC)", fontsize=9.5)
            ax.yaxis.set_label_coords(-0.17, 0.46)
            handles = [Line2D([], [], color=CLSAT_COLOR, linewidth=1.7),
                       Line2D([], [], color=CRU_COLOR, linewidth=1.3, linestyle=(0, (1, 1.3)))]
            ax.legend(handles, ["C-LSAT", "CRU"], loc="upper left",
                      bbox_to_anchor=(0.02, 0.95), frameon=False, fontsize=10,
                      handlelength=2.3, handletextpad=0.3, labelspacing=0.2)
        else:
            ax.set_ylabel("")
            leg = ax.get_legend()
            if leg is not None:
                leg.remove()

        if r == 0:
            fig.text((x0 + x1) / 2 / W, 1 - 17 / H, variables[c], ha="center",
                     va="center", fontsize=16, fontweight="bold", color=title_colors[c])

        # ---- decadal difference bars ----
        bx = fig.add_axes(rect(x0, x1, *bar_rows[r]))
        bx.grid(True, color="#d9d9d9", linestyle="-", linewidth=0.8)
        bx.set_axisbelow(True)
        df = pd.DataFrame({"decade": decades, "diff": diff})
        sns.barplot(data=df, x="decade", y="diff", order=decades, color=BAR_COLOR,
                    saturation=1, width=0.8, linewidth=0, ax=bx)
        bx.axhline(0, color="#222222", linewidth=1.0, zorder=3)
        bx.set_xlim(-0.9, 12.2)
        if c == 3:
            bx.set_ylim(-0.6, 0.3)
            bx.set_yticks([-0.6, -0.3, 0.0, 0.3])
        else:
            bx.set_ylim(-0.3, 0.6)
            bx.set_yticks([-0.3, 0.0, 0.3, 0.6])
        bx.set_yticklabels([f"{v:.1f}" for v in bx.get_yticks()])
        bx.set_xticks([0, 3, 6, 9])
        bx.set_xticklabels(["1900s", "1930s", "1960s", "1990s"])
        bx.tick_params(axis="x", length=0, labelsize=10, pad=3)
        bx.tick_params(axis="y", direction="inout", length=5, labelsize=10,
                       right=True, pad=2)
        for s in bx.spines.values():
            s.set_linewidth(1.0)
            s.set_color("#333333")
        bx.set_xlabel("")
        if c == 0:
            bx.set_ylabel("CRU\u2014C-LSAT", fontsize=9.5)
            bx.yaxis.set_label_coords(-0.17, 0.5)
        else:
            bx.set_ylabel("")

    fig.text(18 / W, 1 - row_label_y[r] / H, regions[r], rotation=90,
             ha="center", va="center", fontsize=16)

fig.savefig("out.png", dpi=100)
